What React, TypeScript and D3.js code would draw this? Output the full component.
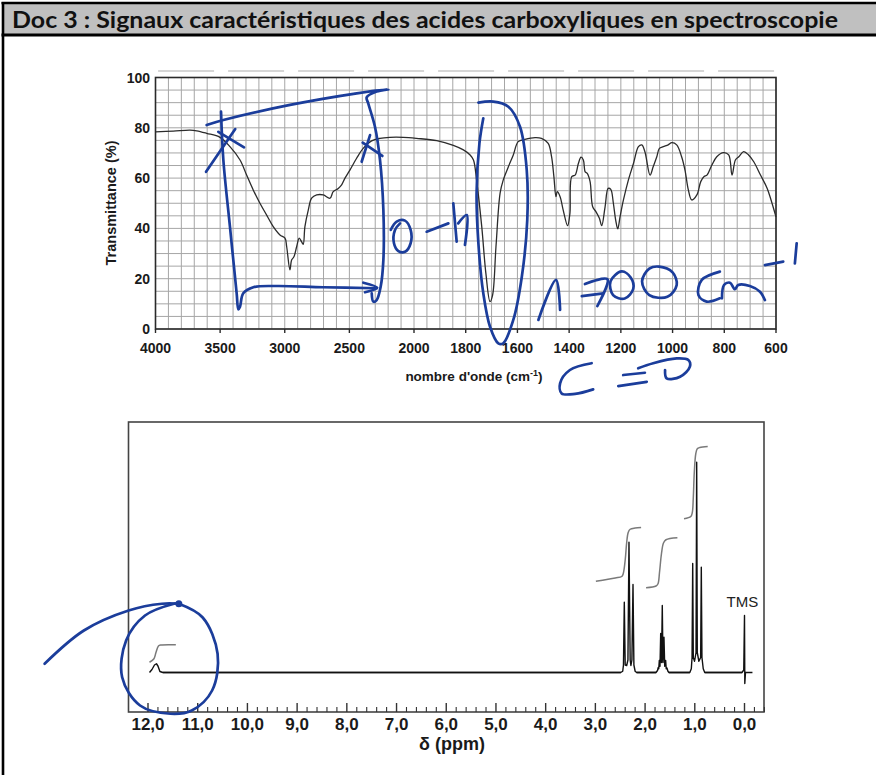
import React from 'react';
import * as d3 from 'd3';

// ---------- IR spectrum data ----------
const irXTicks = [4000, 3500, 3000, 2500, 2000, 1800, 1600, 1400, 1200, 1000, 800, 600];
const irYTicks = [0, 20, 40, 60, 80, 100];
const irWavenumber = [4000, 3862, 3733, 3681, 3604, 3501, 3424, 3346, 3295, 3244, 3192, 3140, 3089, 3037, 2998, 2985, 2960, 2947, 2929, 2908, 2888, 2870, 2857, 2844, 2818, 2792, 2753, 2702, 2650, 2625, 2586, 2560, 2535, 2496, 2444, 2393, 2328, 2264, 2186, 2083, 1990, 1912, 1848, 1809, 1783, 1770, 1758, 1738, 1722, 1706, 1696, 1683, 1667, 1655, 1635, 1616, 1597, 1571, 1532, 1507, 1481, 1468, 1459, 1451, 1446, 1435, 1423, 1406, 1397, 1390, 1377, 1364, 1354, 1345, 1338, 1330, 1319, 1309, 1296, 1283, 1274, 1261, 1249, 1239, 1229, 1220, 1212, 1203, 1190, 1171, 1151, 1132, 1119, 1107, 1087, 1075, 1061, 1051, 1036, 1017, 1003, 984, 965, 952, 939, 926, 906, 891, 878, 867, 848, 829, 803, 783, 770, 757, 744, 725, 706, 686, 660, 634, 602, 600];
const irTransmittance = [78.4, 78.7, 79.1, 78.8, 77.8, 76.2, 72.5, 67.2, 61.2, 55.3, 50.0, 45.3, 40.7, 37.4, 36.1, 32.7, 23.5, 27.4, 28.7, 32.7, 36.1, 34.7, 33.7, 40.7, 47.3, 52.0, 53.3, 53.3, 52.0, 54.6, 55.9, 57.3, 59.9, 63.2, 67.9, 71.8, 74.8, 75.8, 76.2, 76.2, 75.8, 74.9, 73.0, 71.2, 69.2, 67.2, 59.2, 40.7, 22.1, 10.9, 13.5, 32.7, 54.0, 59.2, 64.5, 69.2, 74.5, 75.4, 76.1, 75.8, 73.8, 68.5, 60.6, 52.6, 54.6, 52.6, 47.3, 41.1, 46.0, 60.6, 61.2, 65.9, 68.3, 67.2, 62.5, 61.9, 58.6, 48.6, 46.6, 44.0, 41.1, 48.6, 55.9, 55.5, 50.0, 43.3, 39.8, 44.7, 51.3, 59.2, 65.9, 72.5, 73.2, 70.5, 61.2, 64.5, 68.5, 71.8, 72.5, 73.2, 74.1, 73.2, 68.5, 63.2, 55.3, 51.3, 53.3, 58.6, 60.6, 61.2, 65.2, 68.5, 70.1, 69.2, 61.2, 67.2, 68.5, 70.5, 69.2, 66.5, 61.2, 55.9, 45.3, 44.6];

// ---------- NMR spectrum data ----------
const nmrTicks = [12, 11, 10, 9, 8, 7, 6, 5, 4, 3, 2, 1, 0];
const nmrPpm = [11.97, 11.92, 11.87, 11.83, 11.80, 11.76, 11.70,
  2.49, 2.45, 2.435, 2.418, 2.40, 2.37, 2.345, 2.324, 2.30, 2.285, 2.265, 2.243, 2.225, 2.20, 2.17,
  1.78, 1.75, 1.735, 1.725, 1.714, 1.70, 1.686, 1.67, 1.654, 1.64, 1.62, 1.605, 1.586, 1.575, 1.56, 1.54, 1.52,
  1.10, 1.07, 1.055, 1.042, 1.03, 1.005, 0.975, 0.962, 0.95, 0.918, 0.882, 0.869, 0.856, 0.83, 0.80,
  0.05, 0.015, 0.0, -0.006, -0.02, -0.16];
const nmrIntensity = [0, 1.2, 3.0, 3.5, 2.6, 0.4, 0,
  0, 0.5, 3, 28.1, 3, 2.8, 5, 52.1, 5, 2.8, 5, 35.2, 3, 0.5, 0,
  0, 0.8, 2, 1.5, 4.8, 2.5, 15.6, 4, 26.8, 4, 14.1, 2.5, 4.8, 1.5, 1.8, 0.5, 0,
  0, 1.5, 6, 43.6, 6, 4.5, 8, 84.1, 8, 4.5, 6, 42.1, 6, 1.5, 0,
  0, 1, 22.8, -4.4, 0, 0];
const nmrIntegralCurves: [number, number][][] = [
  [[11.97, 4.1], [11.88, 5.5], [11.84, 8], [11.79, 10.6], [11.74, 11], [11.44, 11.1]],
  [[2.99, 36.5], [2.6, 37.8], [2.47, 38.4], [2.44, 39.5], [2.40, 45], [2.37, 52], [2.34, 56], [2.30, 57.3], [2.2, 57.8], [2.08, 58]],
  [[1.98, 33.9], [1.78, 34.6], [1.74, 35.5], [1.71, 40], [1.67, 47.6], [1.63, 51.8], [1.58, 53.1], [1.35, 53.9]],
  [[1.217, 61.5], [1.08, 62.4], [1.05, 64], [1.03, 70], [1.01, 80], [0.98, 87.5], [0.95, 89.5], [0.90, 90], [0.74, 90.4]],
];

// ---------- handwritten annotations (in IR data space: wavenumber, %T) ----------
const inkIR: [number, number][][] = [
  // bracket top + right side
  [[3604, 81.1], [3475, 83.1], [2959, 89.1], [2443, 93.7], [2199, 95.3], [2289, 94.4], [2366, 92.1], [2354, 89.7], [2302, 80.4], [2263, 67.2], [2237, 47.3], [2237, 27.4], [2258, 16.8], [2289, 11.5], [2315, 10.9], [2327, 14.2]],
  // left vertical + bottom arrow
  [[3493, 86.4], [3475, 67.2], [3424, 40.7], [3372, 14.2], [3359, 7.8], [3346, 8.9], [3321, 14.2], [3243, 16.6], [3062, 17.1], [2702, 16.6], [2289, 16.2]],
  [[2392, 18.4], [2284, 16.4], [2379, 14.6]],
  // crosses
  [[3609, 62.5], [3383, 79.5]],
  [[3514, 78.4], [3315, 72.2]],
  [[2405, 66.5], [2340, 77.1]],
  [[2397, 74.1], [2245, 68.8]],
  // O - H
  [[2180, 39.4], [2134, 42.7], [2070, 43.1], [2026, 39.4], [2026, 34.1], [2070, 30.7], [2121, 31.0], [2155, 34.1], [2147, 39.4], [2108, 42.0]],
  [[1951, 38.7], [1867, 42.0]],
  [[1848, 50.0], [1835, 34.7]],
  [[1829, 42.0], [1796, 45.3], [1803, 33.4]],
  // ellipse around C=O band
  [[1732, 83.8], [1747, 73.8], [1758, 54.0], [1751, 34.1], [1732, 14.2], [1706, 0.9], [1674, -5.7], [1655, -5.7], [1616, 3.6], [1583, 20.8], [1562, 43.3], [1564, 63.2], [1590, 80.4], [1635, 88.4], [1693, 90.4], [1751, 90.0]],
  // 1 7
  [[1519, 3.6], [1451, 19.5], [1435, 7.6]],
  [[1339, 17.9], [1252, 19.8], [1291, 9.1]],
  [[1351, 13.1], [1268, 14.2]],
  // c m - 1
  [[817, 22.8], [887, 19.5], [900, 13.5], [868, 10.9], [817, 12.2]],
  [[809, 12.2], [801, 17.5], [778, 18.4], [759, 15.8], [746, 17.5], [701, 17.1], [662, 14.8], [643, 11.5]],
  [[643, 25.4], [572, 26.8]],
  [[520, 34.1], [527, 26.1]],
  // C = O
  [[1313, -13.6], [1397, -16.3], [1435, -21.6], [1429, -25.6], [1377, -25.8], [1307, -24.0]],
  [[1191, -18.3], [1107, -17.4]],
  [[1210, -22.7], [1100, -21.0]],
  [[1029, -16.3], [1023, -19.6], [971, -19.0], [933, -15.0], [939, -12.3], [984, -11.7], [1075, -13.6], [1133, -15.6]],
];
const inkIROvals: [number, number][][] = [
  [[1197, 22.9], [1162, 20.5], [1152, 16], [1185, 12.1], [1230, 13.5], [1240, 19]],
  [[1052, 24.8], [1000, 22.5], [984, 17.5], [1020, 12.8], [1090, 13.5], [1118, 19], [1090, 24]],
];
// handwritten annotation on the NMR (ppm, intensity)
const inkNMR: [number, number][][] = [
  [[14.08, 3.5], [13.29, 16.8], [12.39, 24.8], [11.72, 27.5], [11.38, 27.5]],
  [[11.38, 27.5], [10.9, 22], [10.6, 7.5], [10.71, -7.2], [11.12, -15.2], [11.55, -16.5], [12.16, -13.2], [12.52, -1.9], [12.44, 12.8], [12.06, 22.8], [11.46, 27.6]],
];
const inkNMRDot: [number, number] = [11.38, 27.5];

const INK = '#1b3d9b';

export default function App() {
  // IR scales (scale changes at 2000 cm-1)
  const xIR = d3.scaleLinear().domain([4000, 2000, 600]).range([155.5, 414, 776]);
  const yIR = d3.scaleLinear().domain([0, 100]).range([329, 77.5]);
  const irLine = d3.line<number>()
    .x((d) => xIR(d))
    .y((_, i) => yIR(irTransmittance[i]))
    .curve(d3.curveCatmullRom.alpha(0.5));
  const irGridX = [...d3.range(4000, 2000, -100), ...d3.range(2000, 599, -50)];
  const irGridY = d3.range(0, 101, 5);

  // NMR scales
  const xN = d3.scaleLinear().domain([12, 0]).range([148, 744.5]);
  const yN = d3.scaleLinear().domain([0, 100]).range([672.5, 422.5]);
  const nmrLine = d3.line<number>().x((d) => xN(d)).y((_, i) => yN(nmrIntensity[i]));
  const integLine = d3.line<[number, number]>().x((d) => xN(d[0])).y((d) => yN(d[1])).curve(d3.curveCatmullRom);
  const minorTicks = d3.range(-2, 61).map((i) => i / 5).filter((v) => Math.abs(v - Math.round(v)) > 1e-6);

  const inkLineIR = d3.line<[number, number]>().x((d) => xIR(d[0])).y((d) => yIR(d[1])).curve(d3.curveCatmullRom.alpha(0.5));
  const inkOvalIR = d3.line<[number, number]>().x((d) => xIR(d[0])).y((d) => yIR(d[1])).curve(d3.curveCatmullRomClosed.alpha(0.5));
  const inkLineN = d3.line<[number, number]>().x((d) => xN(d[0])).y((d) => yN(d[1])).curve(d3.curveCatmullRom.alpha(0.5));

  const sans = '"Liberation Sans", Arial, sans-serif';

  return (
    <svg width={876} height={775} style={{ position: 'absolute', left: 0, top: 0 }} xmlns="http://www.w3.org/2000/svg">
      <rect x={0} y={0} width={876} height={775} fill="#fff" />
      {/* document header */}
      <rect x={3} y={3} width={873} height={31.5} fill="#c0c0c0" />
      <line x1={1.5} y1={3} x2={876} y2={3} stroke="#000" strokeWidth={2.6} />
      <line x1={1.5} y1={35} x2={876} y2={35} stroke="#000" strokeWidth={2.8} />
      <line x1={3} y1={2} x2={3} y2={775} stroke="#000" strokeWidth={2.6} />
      <text x={12} y={28} fontFamily="Lato, 'Open Sans', sans-serif" fontWeight={700} fontSize={23} fill="#111" textLength={826} lengthAdjust="spacingAndGlyphs">
        Doc 3 : Signaux caractéristiques des acides carboxyliques en spectroscopie
      </text>

      {/* ---------- IR chart ---------- */}
      <line x1={xIR(3980)} x2={xIR(605)} y1={71} y2={71} stroke="#d6d6d6" strokeWidth={2} strokeDasharray="56 14" />
      <g stroke="#a6a6a6" strokeWidth={1}>
        {irGridX.map((v) => (
          <line key={'gx' + v} x1={xIR(v)} x2={xIR(v)} y1={yIR(0)} y2={yIR(100)} />
        ))}
        {irGridY.map((v) => (
          <line key={'gy' + v} x1={xIR(4000)} x2={xIR(600)} y1={yIR(v)} y2={yIR(v)} />
        ))}
      </g>
      <rect x={xIR(4000)} y={yIR(100)} width={xIR(600) - xIR(4000)} height={yIR(0) - yIR(100)} fill="none" stroke="#2a2a2a" strokeWidth={1.6} />
      {irXTicks.map((v) => (
        <g key={'xt' + v}>
          <line x1={xIR(v)} x2={xIR(v)} y1={yIR(0)} y2={yIR(0) + 4} stroke="#2a2a2a" strokeWidth={1.4} />
          <text x={xIR(v)} y={353} textAnchor="middle" fontFamily={sans} fontWeight={700} fontSize={14} fill="#1a1a1a">{v}</text>
        </g>
      ))}
      {irYTicks.map((v) => (
        <text key={'yt' + v} x={150} y={yIR(v) + 5} textAnchor="end" fontFamily={sans} fontWeight={700} fontSize={14} fill="#1a1a1a">{v}</text>
      ))}
      <text transform="translate(115.5,203) rotate(-90)" textAnchor="middle" fontFamily={sans} fontWeight={700} fontSize={14} fill="#1a1a1a" textLength={125} lengthAdjust="spacingAndGlyphs">Transmittance (%)</text>
      <text x={474} y={381} textAnchor="middle" fontFamily={sans} fontWeight={700} fontSize={13.5} fill="#1a1a1a">
        nombre d'onde (cm<tspan fontSize={9} dy={-5}>-1</tspan><tspan dy={5}>)</tspan>
      </text>
      <path d={irLine(irWavenumber) || ''} fill="none" stroke="#2b2b2b" strokeWidth={1.3} />

      {/* ---------- NMR chart ---------- */}
      <rect x={128.5} y={422} width={635.5} height={290} fill="none" stroke="#444" strokeWidth={1.6} />
      {nmrTicks.map((v) => (
        <g key={'nt' + v}>
          <line x1={xN(v)} x2={xN(v)} y1={712} y2={703} stroke="#333" strokeWidth={1.4} />
          <text x={xN(v)} y={730} textAnchor="middle" fontFamily={sans} fontWeight={700} fontSize={17} fill="#1a1a1a">{`${v},0`}</text>
        </g>
      ))}
      {minorTicks.map((v) => (
        <line key={'mt' + v} x1={xN(v)} x2={xN(v)} y1={712} y2={707} stroke="#333" strokeWidth={1.1} />
      ))}
      <text x={452} y={750} textAnchor="middle" fontFamily={sans} fontWeight={700} fontSize={18} fill="#1a1a1a">δ (ppm)</text>
      <line x1={xN(11.7)} x2={xN(2.49)} y1={yN(0)} y2={yN(0)} stroke="#111" strokeWidth={1.6} />
      <line x1={xN(2.17)} x2={xN(1.78)} y1={yN(0)} y2={yN(0)} stroke="#111" strokeWidth={1.6} />
      <line x1={xN(1.52)} x2={xN(1.10)} y1={yN(0)} y2={yN(0)} stroke="#111" strokeWidth={1.6} />
      <line x1={xN(0.80)} x2={xN(0.05)} y1={yN(0)} y2={yN(0)} stroke="#111" strokeWidth={1.6} />
      <path d={nmrLine(nmrPpm) || ''} fill="none" stroke="#111" strokeWidth={1.4} strokeLinejoin="round" />
      {nmrIntegralCurves.map((c, i) => (
        <path key={'ig' + i} d={integLine(c) || ''} fill="none" stroke="#7a7a7a" strokeWidth={1.5} />
      ))}
      <text x={xN(0) - 18} y={607} fontFamily={sans} fontSize={15} fill="#222">TMS</text>

      {/* ---------- handwritten annotations ---------- */}
      <g fill="none" stroke={INK} strokeWidth={2.7} strokeLinecap="round" strokeLinejoin="round">
        {inkIR.map((s, i) => (
          <path key={'ink' + i} d={inkLineIR(s) || ''} />
        ))}
        {inkIROvals.map((s, i) => (
          <path key={'ov' + i} d={inkOvalIR(s) || ''} />
        ))}
        {inkNMR.map((s, i) => (
          <path key={'inn' + i} d={inkLineN(s) || ''} />
        ))}
      </g>
      <circle cx={xN(inkNMRDot[0])} cy={yN(inkNMRDot[1])} r={3.5} fill={INK} />
    </svg>
  );
}
